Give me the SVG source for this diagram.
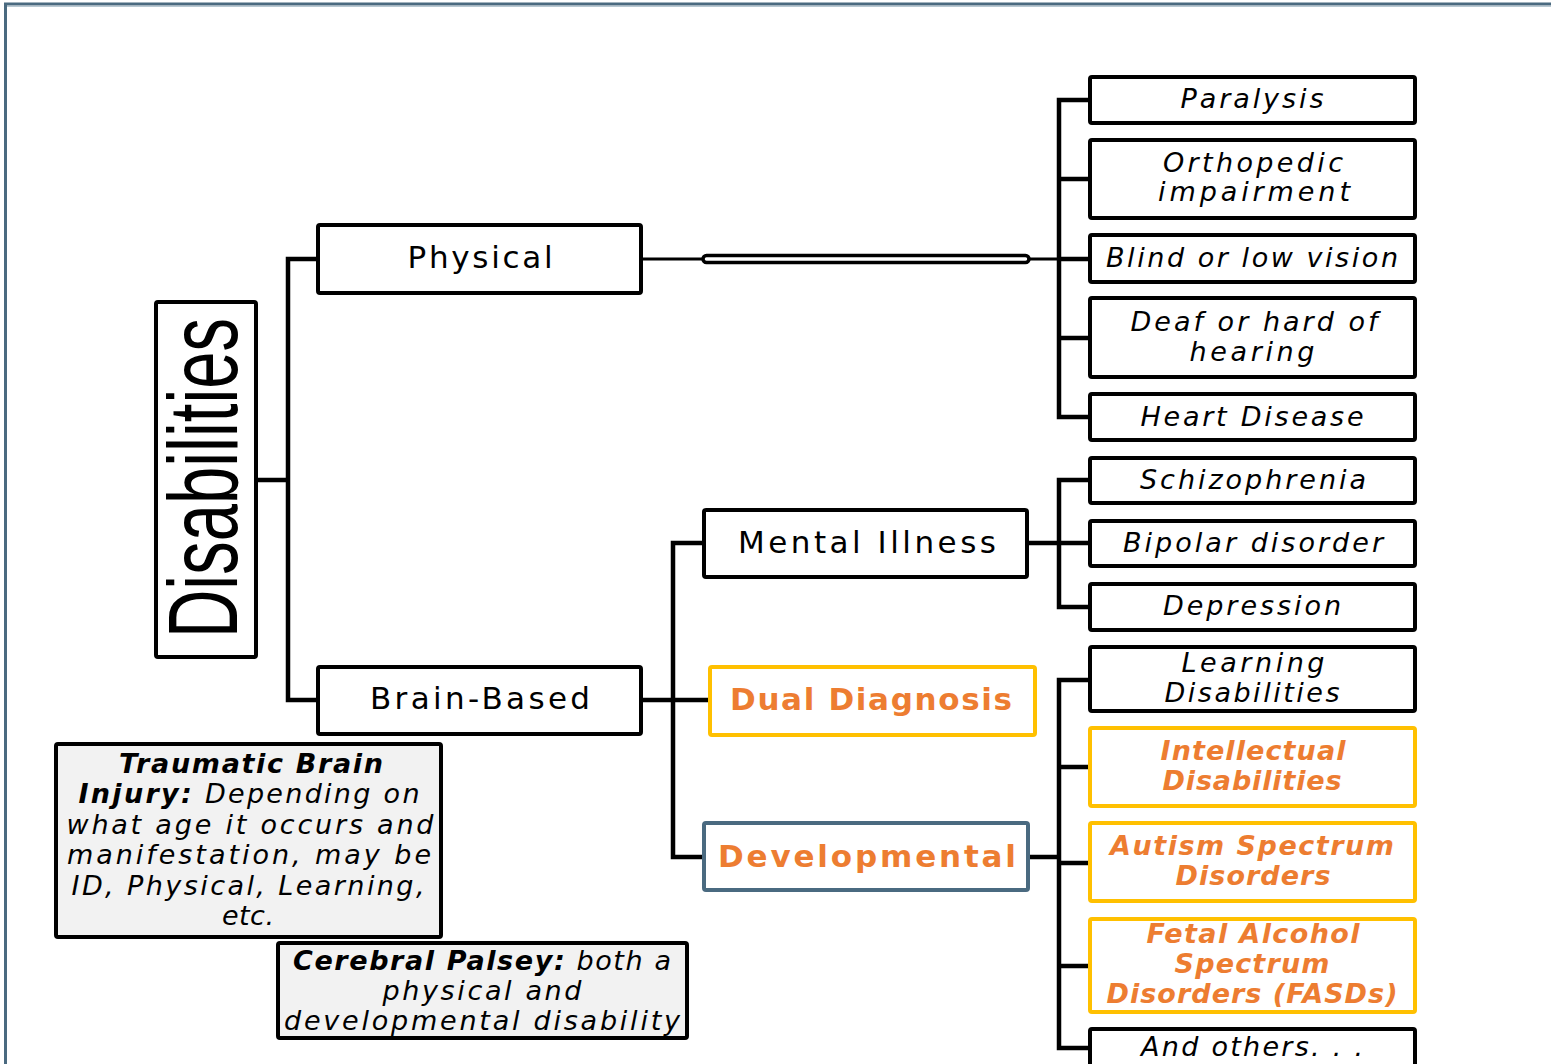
<svg xmlns="http://www.w3.org/2000/svg" width="1551" height="1064" viewBox="0 0 1551 1064">
<style>
.bx{fill:#fff;stroke:#000;stroke-width:4}
.yb{fill:#fff;stroke:#FFC000;stroke-width:4}
.gb{fill:#fff;stroke:#4A6A80;stroke-width:4}
.nb{fill:#f2f2f2;stroke:#000;stroke-width:4}
.t{font-family:"DejaVu Sans",Verdana,sans-serif;fill:#000;text-anchor:middle}
.m{font-size:31px}
.i{font-size:27px;font-style:italic}
.o{fill:#ED7D31;font-weight:bold}
.c line,.c path{stroke:#000;stroke-width:4.5;fill:none;stroke-linecap:square}
</style>
<g id="frame">
<line x1="4" y1="4" x2="1551" y2="4" stroke="#4A6A80" stroke-width="3"/>
<line x1="4" y1="6.5" x2="1551" y2="6.5" stroke="#B8C8D2" stroke-width="1"/>
<line x1="5.5" y1="3" x2="5.5" y2="1064" stroke="#4A6A80" stroke-width="3"/>
</g>
<g class="c" id="connectors">
<path d="M256 480H288M318 259H288V700H318"/>
<line x1="641" y1="259" x2="703" y2="259" style="stroke-width:3"/>
<rect x="703" y="255.5" width="326" height="7" rx="3.5" fill="#fff" stroke="#000" stroke-width="3.5"/>
<line x1="1029" y1="259" x2="1058" y2="259" style="stroke-width:3"/>
<path d="M1090 100H1059V417H1090M1059 179H1090M1059 259H1090M1059 338H1090"/>
<path d="M1027 543H1090M1090 480H1059V607H1090"/>
<path d="M641 700H710M704 543H673V857H704"/>
<path d="M1028 857H1059M1090 680H1059V1048H1090M1059 767H1090M1059 863H1090M1059 966H1090"/>
</g>
<g id="n-disabilities">
<rect class="bx" x="156" y="302" width="100" height="355" rx="2"/>
<text transform="translate(237,478) rotate(-90)" text-anchor="middle" font-family="'Liberation Sans Narrow','Liberation Sans',sans-serif" font-size="98" textLength="320" lengthAdjust="spacingAndGlyphs">Disabilities</text>
</g>
<g id="n-physical">
<rect class="bx" x="318" y="225" width="323" height="68" rx="2"/>
<text class="t m" x="480" y="268" textLength="145">Physical</text>
</g>
<g id="n-brain">
<rect class="bx" x="318" y="667" width="323" height="67" rx="2"/>
<text class="t m" x="480" y="709" textLength="220">Brain-Based</text>
</g>
<g id="n-mental">
<rect class="bx" x="704" y="510" width="323" height="67" rx="2"/>
<text class="t m" x="867" y="553" textLength="258">Mental Illness</text>
</g>
<g id="n-dual">
<rect class="yb" x="710" y="667" width="325" height="68" rx="2"/>
<text class="t m o" x="871" y="710" textLength="282">Dual Diagnosis</text>
</g>
<g id="n-dev">
<rect class="gb" x="704" y="823" width="324" height="67" rx="2"/>
<text class="t m o" x="867" y="867" textLength="298">Developmental</text>
</g>
<g id="n-paralysis">
<rect class="bx" x="1090" y="77" width="325" height="46" rx="2"/>
<text class="t i" x="1252" y="108" textLength="143">Paralysis</text>
</g>
<g id="n-ortho">
<rect class="bx" x="1090" y="140" width="325" height="78" rx="2"/>
<text class="t i" x="1253" y="172" textLength="180">Orthopedic</text>
<text class="t i" x="1254" y="201" textLength="192">impairment</text>
</g>
<g id="n-blind">
<rect class="bx" x="1090" y="235" width="325" height="47" rx="2"/>
<text class="t i" x="1252" y="267" textLength="292">Blind or low vision</text>
</g>
<g id="n-deaf">
<rect class="bx" x="1090" y="298" width="325" height="79" rx="2"/>
<text class="t i" x="1254" y="331" textLength="247">Deaf or hard of</text>
<text class="t i" x="1252" y="361" textLength="125">hearing</text>
</g>
<g id="n-heart">
<rect class="bx" x="1090" y="394" width="325" height="46" rx="2"/>
<text class="t i" x="1252" y="426" textLength="223">Heart Disease</text>
</g>
<g id="n-schizo">
<rect class="bx" x="1090" y="458" width="325" height="45" rx="2"/>
<text class="t i" x="1253" y="489" textLength="226">Schizophrenia</text>
</g>
<g id="n-bipolar">
<rect class="bx" x="1090" y="521" width="325" height="45" rx="2"/>
<text class="t i" x="1253" y="552" textLength="260">Bipolar disorder</text>
</g>
<g id="n-depression">
<rect class="bx" x="1090" y="584" width="325" height="46" rx="2"/>
<text class="t i" x="1252" y="615" textLength="178">Depression</text>
</g>
<g id="n-learning">
<rect class="bx" x="1090" y="647" width="325" height="64" rx="2"/>
<text class="t i" x="1253" y="672" textLength="143">Learning</text>
<text class="t i" x="1252" y="702" textLength="175">Disabilities</text>
</g>
<g id="n-intellectual">
<rect class="yb" x="1090" y="728" width="325" height="78" rx="2"/>
<text class="t i o" x="1253" y="760" textLength="185">Intellectual</text>
<text class="t i o" x="1252" y="790" textLength="179">Disabilities</text>
</g>
<g id="n-autism">
<rect class="yb" x="1090" y="823" width="325" height="78" rx="2"/>
<text class="t i o" x="1252" y="855" textLength="284">Autism Spectrum</text>
<text class="t i o" x="1253" y="885" textLength="155">Disorders</text>
</g>
<g id="n-fasd">
<rect class="yb" x="1090" y="919" width="325" height="93" rx="2"/>
<text class="t i o" x="1253" y="943" textLength="213">Fetal Alcohol</text>
<text class="t i o" x="1252" y="973" textLength="155">Spectrum</text>
<text class="t i o" x="1252" y="1003" textLength="291">Disorders (FASDs)</text>
</g>
<g id="n-others">
<rect class="bx" x="1090" y="1029" width="325" height="50" rx="2"/>
<text class="t i" x="1252" y="1056" textLength="222">And others. . .</text>
</g>
<g id="n-tbi">
<rect class="nb" x="56" y="744" width="385" height="193" rx="2"/>
<text class="t i" x="251" y="773" font-weight="bold" textLength="264">Traumatic Brain</text>
<text class="t i" x="249" y="803" textLength="341"><tspan font-weight="bold">Injury:</tspan> Depending on</text>
<text class="t i" x="250" y="834" textLength="367">what age it occurs and</text>
<text class="t i" x="249" y="864" textLength="364">manifestation, may be</text>
<text class="t i" x="248" y="895" textLength="353">ID, Physical, Learning,</text>
<text class="t i" x="248" y="925" textLength="52">etc.</text>
</g>
<g id="n-cp">
<rect class="nb" x="278" y="943" width="409" height="95" rx="2"/>
<text class="t i" x="482" y="970" textLength="378"><tspan font-weight="bold">Cerebral Palsey:</tspan> both a</text>
<text class="t i" x="482" y="1000" textLength="199">physical and</text>
<text class="t i" x="482" y="1030" textLength="396">developmental disability</text>
</g>
</svg>
